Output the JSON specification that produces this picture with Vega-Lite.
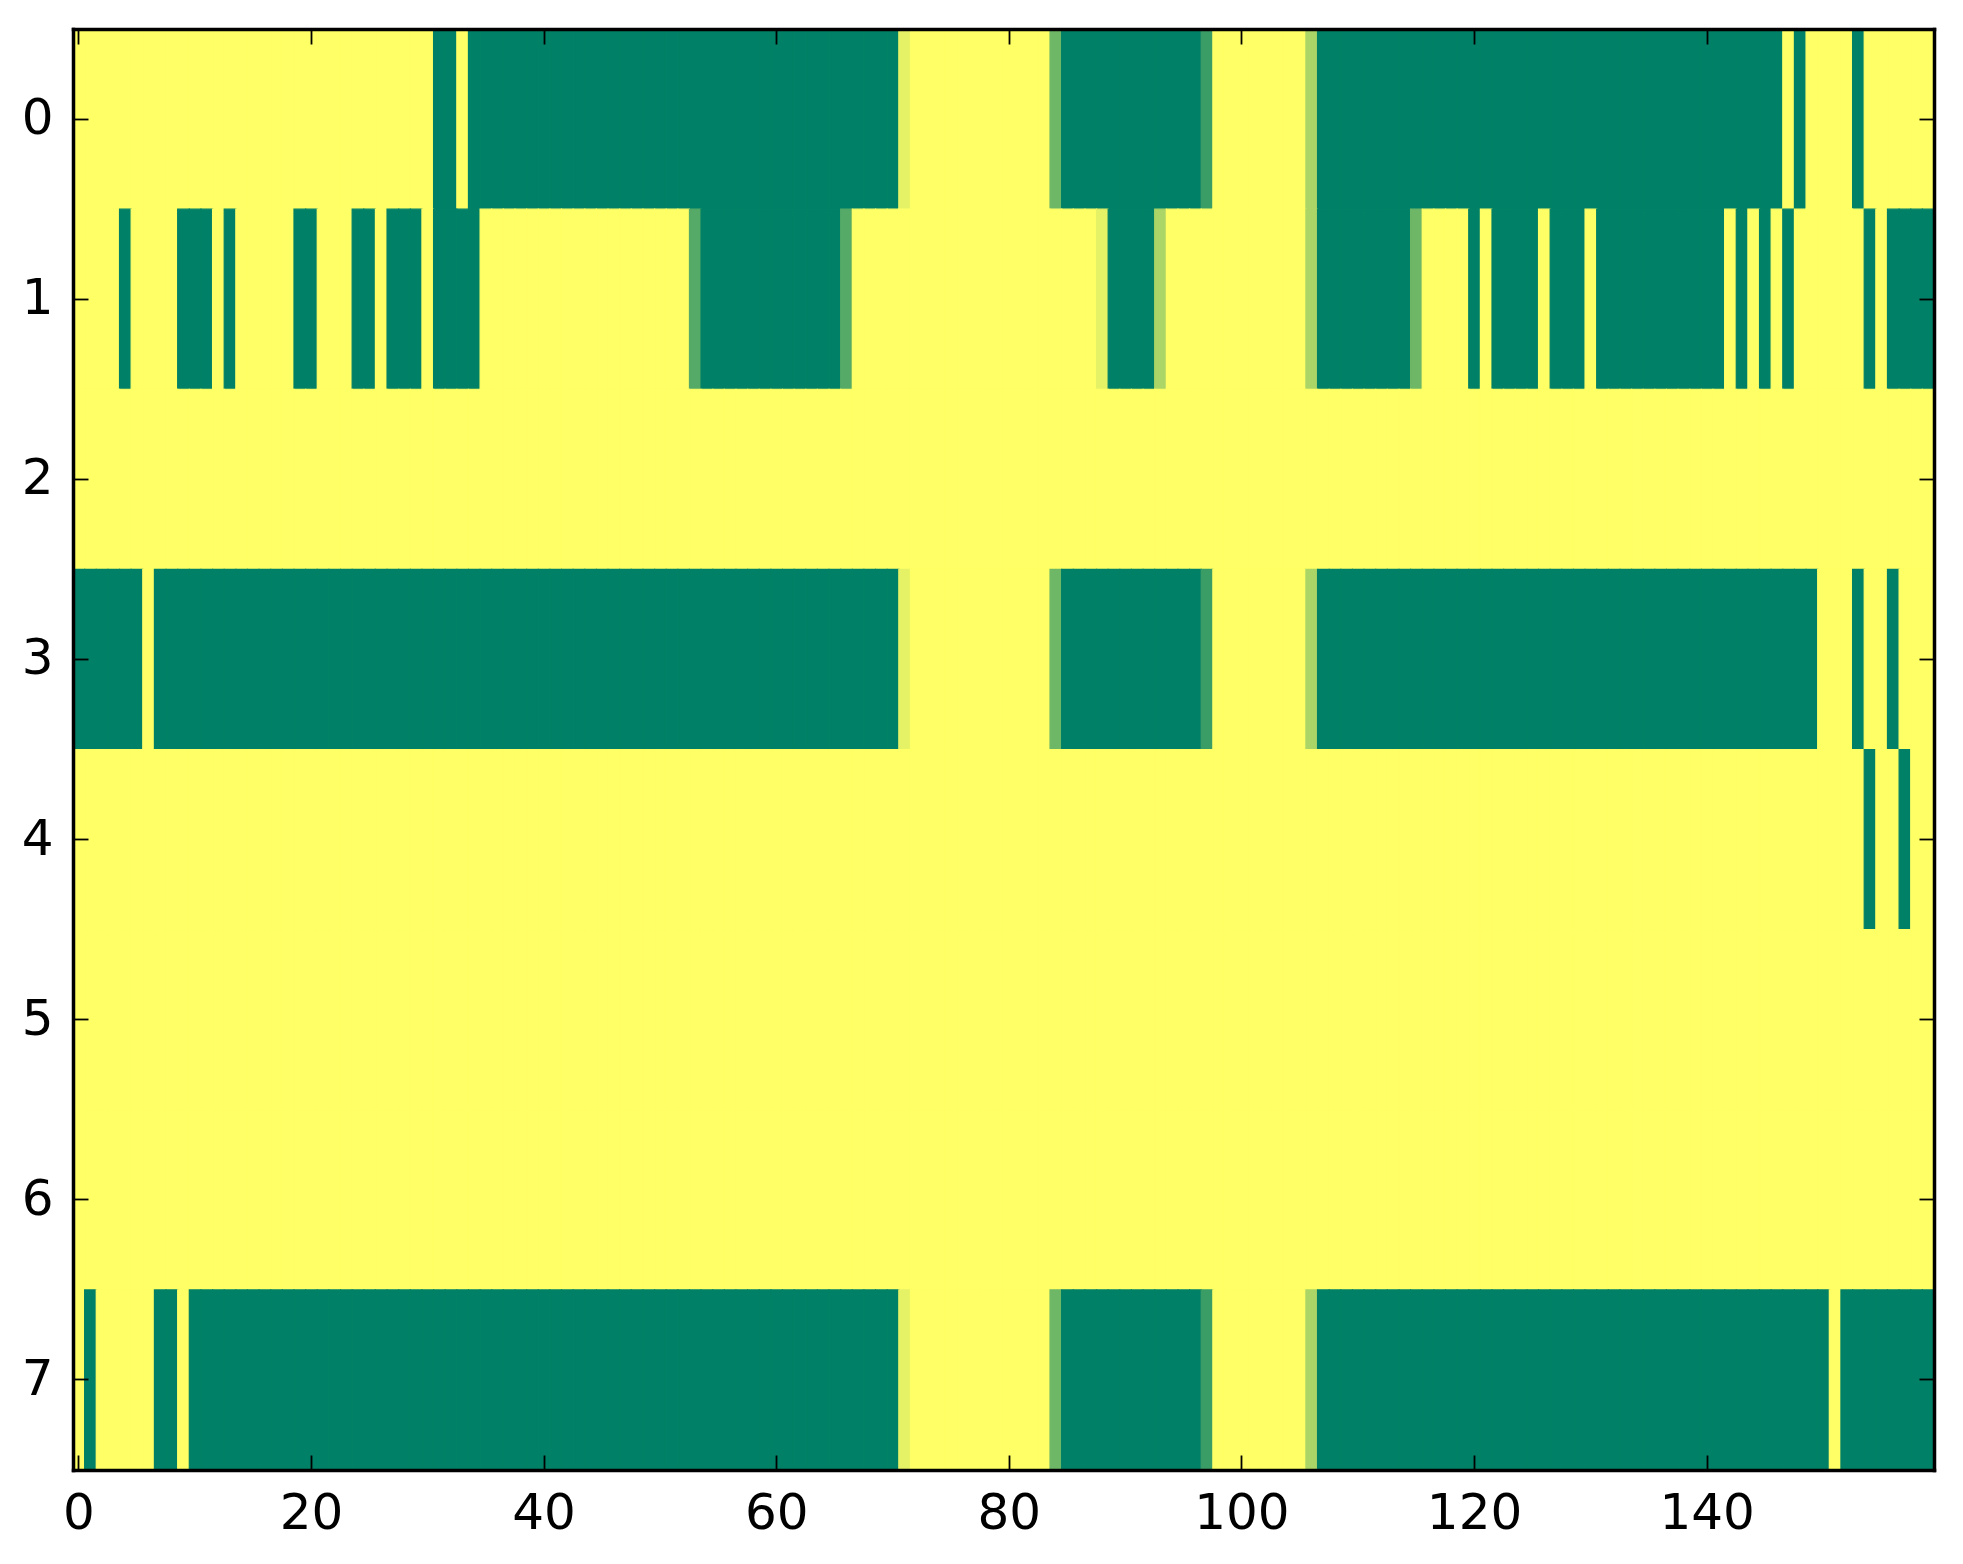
{
  "$schema": "https://vega.github.io/schema/vega-lite/v6.json",
  "autosize": {"type": "none"},
  "padding": {"left": 73, "top": 29, "right": 29, "bottom": 94},
  "width": 1861,
  "height": 1441,
  "background": "white",
  "config": {
    "view": {"stroke": null},
    "axis": {
      "labelFont": "DejaVu Sans",
      "labelFontSize": 50,
      "labelColor": "black",
      "tickColor": "black",
      "tickWidth": 1.8,
      "tickSize": -15,
      "domain": true,
      "domainColor": "black",
      "domainWidth": 3.5,
      "domainCap": "square",
      "grid": false,
      "title": null
    }
  },
  "data": {"values": [
{"r":0,"c":0,"v":1},{"r":0,"c":1,"v":1},{"r":0,"c":2,"v":1},{"r":0,"c":3,"v":1},{"r":0,"c":4,"v":1},{"r":0,"c":5,"v":1},{"r":0,"c":6,"v":1},{"r":0,"c":7,"v":1},{"r":0,"c":8,"v":1},{"r":0,"c":9,"v":1},
{"r":0,"c":10,"v":1},{"r":0,"c":11,"v":1},{"r":0,"c":12,"v":1},{"r":0,"c":13,"v":1},{"r":0,"c":14,"v":1},{"r":0,"c":15,"v":1},{"r":0,"c":16,"v":1},{"r":0,"c":17,"v":1},{"r":0,"c":18,"v":1},{"r":0,"c":19,"v":1},
{"r":0,"c":20,"v":1},{"r":0,"c":21,"v":1},{"r":0,"c":22,"v":1},{"r":0,"c":23,"v":1},{"r":0,"c":24,"v":1},{"r":0,"c":25,"v":1},{"r":0,"c":26,"v":1},{"r":0,"c":27,"v":1},{"r":0,"c":28,"v":1},{"r":0,"c":29,"v":1},
{"r":0,"c":30,"v":1},{"r":0,"c":31,"v":0},{"r":0,"c":32,"v":0},{"r":0,"c":33,"v":1},{"r":0,"c":34,"v":0},{"r":0,"c":35,"v":0},{"r":0,"c":36,"v":0},{"r":0,"c":37,"v":0},{"r":0,"c":38,"v":0},{"r":0,"c":39,"v":0},
{"r":0,"c":40,"v":0},{"r":0,"c":41,"v":0},{"r":0,"c":42,"v":0},{"r":0,"c":43,"v":0},{"r":0,"c":44,"v":0},{"r":0,"c":45,"v":0},{"r":0,"c":46,"v":0},{"r":0,"c":47,"v":0},{"r":0,"c":48,"v":0},{"r":0,"c":49,"v":0},
{"r":0,"c":50,"v":0},{"r":0,"c":51,"v":0},{"r":0,"c":52,"v":0},{"r":0,"c":53,"v":0},{"r":0,"c":54,"v":0},{"r":0,"c":55,"v":0},{"r":0,"c":56,"v":0},{"r":0,"c":57,"v":0},{"r":0,"c":58,"v":0},{"r":0,"c":59,"v":0},
{"r":0,"c":60,"v":0},{"r":0,"c":61,"v":0},{"r":0,"c":62,"v":0},{"r":0,"c":63,"v":0},{"r":0,"c":64,"v":0},{"r":0,"c":65,"v":0},{"r":0,"c":66,"v":0},{"r":0,"c":67,"v":0},{"r":0,"c":68,"v":0},{"r":0,"c":69,"v":0},
{"r":0,"c":70,"v":0},{"r":0,"c":71,"v":0.9},{"r":0,"c":72,"v":1},{"r":0,"c":73,"v":1},{"r":0,"c":74,"v":1},{"r":0,"c":75,"v":1},{"r":0,"c":76,"v":1},{"r":0,"c":77,"v":1},{"r":0,"c":78,"v":1},{"r":0,"c":79,"v":1},
{"r":0,"c":80,"v":1},{"r":0,"c":81,"v":1},{"r":0,"c":82,"v":1},{"r":0,"c":83,"v":1},{"r":0,"c":84,"v":0.43},{"r":0,"c":85,"v":0},{"r":0,"c":86,"v":0},{"r":0,"c":87,"v":0},{"r":0,"c":88,"v":0},{"r":0,"c":89,"v":0},
{"r":0,"c":90,"v":0},{"r":0,"c":91,"v":0},{"r":0,"c":92,"v":0},{"r":0,"c":93,"v":0},{"r":0,"c":94,"v":0},{"r":0,"c":95,"v":0},{"r":0,"c":96,"v":0},{"r":0,"c":97,"v":0.23},{"r":0,"c":98,"v":1},{"r":0,"c":99,"v":1},
{"r":0,"c":100,"v":1},{"r":0,"c":101,"v":1},{"r":0,"c":102,"v":1},{"r":0,"c":103,"v":1},{"r":0,"c":104,"v":1},{"r":0,"c":105,"v":1},{"r":0,"c":106,"v":0.67},{"r":0,"c":107,"v":0},{"r":0,"c":108,"v":0},{"r":0,"c":109,"v":0},
{"r":0,"c":110,"v":0},{"r":0,"c":111,"v":0},{"r":0,"c":112,"v":0},{"r":0,"c":113,"v":0},{"r":0,"c":114,"v":0},{"r":0,"c":115,"v":0},{"r":0,"c":116,"v":0},{"r":0,"c":117,"v":0},{"r":0,"c":118,"v":0},{"r":0,"c":119,"v":0},
{"r":0,"c":120,"v":0},{"r":0,"c":121,"v":0},{"r":0,"c":122,"v":0},{"r":0,"c":123,"v":0},{"r":0,"c":124,"v":0},{"r":0,"c":125,"v":0},{"r":0,"c":126,"v":0},{"r":0,"c":127,"v":0},{"r":0,"c":128,"v":0},{"r":0,"c":129,"v":0},
{"r":0,"c":130,"v":0},{"r":0,"c":131,"v":0},{"r":0,"c":132,"v":0},{"r":0,"c":133,"v":0},{"r":0,"c":134,"v":0},{"r":0,"c":135,"v":0},{"r":0,"c":136,"v":0},{"r":0,"c":137,"v":0},{"r":0,"c":138,"v":0},{"r":0,"c":139,"v":0},
{"r":0,"c":140,"v":0},{"r":0,"c":141,"v":0},{"r":0,"c":142,"v":0},{"r":0,"c":143,"v":0},{"r":0,"c":144,"v":0},{"r":0,"c":145,"v":0},{"r":0,"c":146,"v":0},{"r":0,"c":147,"v":1},{"r":0,"c":148,"v":0},{"r":0,"c":149,"v":1},
{"r":0,"c":150,"v":1},{"r":0,"c":151,"v":1},{"r":0,"c":152,"v":1},{"r":0,"c":153,"v":0},{"r":0,"c":154,"v":1},{"r":0,"c":155,"v":1},{"r":0,"c":156,"v":1},{"r":0,"c":157,"v":1},{"r":0,"c":158,"v":1},{"r":0,"c":159,"v":1},
{"r":1,"c":0,"v":1},{"r":1,"c":1,"v":1},{"r":1,"c":2,"v":1},{"r":1,"c":3,"v":1},{"r":1,"c":4,"v":0},{"r":1,"c":5,"v":1},{"r":1,"c":6,"v":1},{"r":1,"c":7,"v":1},{"r":1,"c":8,"v":1},{"r":1,"c":9,"v":0},
{"r":1,"c":10,"v":0},{"r":1,"c":11,"v":0},{"r":1,"c":12,"v":1},{"r":1,"c":13,"v":0},{"r":1,"c":14,"v":1},{"r":1,"c":15,"v":1},{"r":1,"c":16,"v":1},{"r":1,"c":17,"v":1},{"r":1,"c":18,"v":1},{"r":1,"c":19,"v":0},
{"r":1,"c":20,"v":0},{"r":1,"c":21,"v":1},{"r":1,"c":22,"v":1},{"r":1,"c":23,"v":1},{"r":1,"c":24,"v":0},{"r":1,"c":25,"v":0},{"r":1,"c":26,"v":1},{"r":1,"c":27,"v":0},{"r":1,"c":28,"v":0},{"r":1,"c":29,"v":0},
{"r":1,"c":30,"v":1},{"r":1,"c":31,"v":0},{"r":1,"c":32,"v":0},{"r":1,"c":33,"v":0},{"r":1,"c":34,"v":0},{"r":1,"c":35,"v":1},{"r":1,"c":36,"v":1},{"r":1,"c":37,"v":1},{"r":1,"c":38,"v":1},{"r":1,"c":39,"v":1},
{"r":1,"c":40,"v":1},{"r":1,"c":41,"v":1},{"r":1,"c":42,"v":1},{"r":1,"c":43,"v":1},{"r":1,"c":44,"v":1},{"r":1,"c":45,"v":1},{"r":1,"c":46,"v":1},{"r":1,"c":47,"v":1},{"r":1,"c":48,"v":1},{"r":1,"c":49,"v":1},
{"r":1,"c":50,"v":1},{"r":1,"c":51,"v":1},{"r":1,"c":52,"v":1},{"r":1,"c":53,"v":0.33},{"r":1,"c":54,"v":0},{"r":1,"c":55,"v":0},{"r":1,"c":56,"v":0},{"r":1,"c":57,"v":0},{"r":1,"c":58,"v":0},{"r":1,"c":59,"v":0},
{"r":1,"c":60,"v":0},{"r":1,"c":61,"v":0},{"r":1,"c":62,"v":0},{"r":1,"c":63,"v":0},{"r":1,"c":64,"v":0},{"r":1,"c":65,"v":0},{"r":1,"c":66,"v":0.33},{"r":1,"c":67,"v":1},{"r":1,"c":68,"v":1},{"r":1,"c":69,"v":1},
{"r":1,"c":70,"v":1},{"r":1,"c":71,"v":1},{"r":1,"c":72,"v":1},{"r":1,"c":73,"v":1},{"r":1,"c":74,"v":1},{"r":1,"c":75,"v":1},{"r":1,"c":76,"v":1},{"r":1,"c":77,"v":1},{"r":1,"c":78,"v":1},{"r":1,"c":79,"v":1},
{"r":1,"c":80,"v":1},{"r":1,"c":81,"v":1},{"r":1,"c":82,"v":1},{"r":1,"c":83,"v":1},{"r":1,"c":84,"v":1},{"r":1,"c":85,"v":1},{"r":1,"c":86,"v":1},{"r":1,"c":87,"v":1},{"r":1,"c":88,"v":0.9},{"r":1,"c":89,"v":0},
{"r":1,"c":90,"v":0},{"r":1,"c":91,"v":0},{"r":1,"c":92,"v":0},{"r":1,"c":93,"v":0.67},{"r":1,"c":94,"v":1},{"r":1,"c":95,"v":1},{"r":1,"c":96,"v":1},{"r":1,"c":97,"v":1},{"r":1,"c":98,"v":1},{"r":1,"c":99,"v":1},
{"r":1,"c":100,"v":1},{"r":1,"c":101,"v":1},{"r":1,"c":102,"v":1},{"r":1,"c":103,"v":1},{"r":1,"c":104,"v":1},{"r":1,"c":105,"v":1},{"r":1,"c":106,"v":0.67},{"r":1,"c":107,"v":0},{"r":1,"c":108,"v":0},{"r":1,"c":109,"v":0},
{"r":1,"c":110,"v":0},{"r":1,"c":111,"v":0},{"r":1,"c":112,"v":0},{"r":1,"c":113,"v":0},{"r":1,"c":114,"v":0},{"r":1,"c":115,"v":0.43},{"r":1,"c":116,"v":1},{"r":1,"c":117,"v":1},{"r":1,"c":118,"v":1},{"r":1,"c":119,"v":1},
{"r":1,"c":120,"v":0},{"r":1,"c":121,"v":1},{"r":1,"c":122,"v":0},{"r":1,"c":123,"v":0},{"r":1,"c":124,"v":0},{"r":1,"c":125,"v":0},{"r":1,"c":126,"v":1},{"r":1,"c":127,"v":0},{"r":1,"c":128,"v":0},{"r":1,"c":129,"v":0},
{"r":1,"c":130,"v":1},{"r":1,"c":131,"v":0},{"r":1,"c":132,"v":0},{"r":1,"c":133,"v":0},{"r":1,"c":134,"v":0},{"r":1,"c":135,"v":0},{"r":1,"c":136,"v":0},{"r":1,"c":137,"v":0},{"r":1,"c":138,"v":0},{"r":1,"c":139,"v":0},
{"r":1,"c":140,"v":0},{"r":1,"c":141,"v":0},{"r":1,"c":142,"v":1},{"r":1,"c":143,"v":0},{"r":1,"c":144,"v":1},{"r":1,"c":145,"v":0},{"r":1,"c":146,"v":1},{"r":1,"c":147,"v":0},{"r":1,"c":148,"v":1},{"r":1,"c":149,"v":1},
{"r":1,"c":150,"v":1},{"r":1,"c":151,"v":1},{"r":1,"c":152,"v":1},{"r":1,"c":153,"v":1},{"r":1,"c":154,"v":0},{"r":1,"c":155,"v":1},{"r":1,"c":156,"v":0},{"r":1,"c":157,"v":0},{"r":1,"c":158,"v":0},{"r":1,"c":159,"v":0},
{"r":2,"c":0,"v":1},{"r":2,"c":1,"v":1},{"r":2,"c":2,"v":1},{"r":2,"c":3,"v":1},{"r":2,"c":4,"v":1},{"r":2,"c":5,"v":1},{"r":2,"c":6,"v":1},{"r":2,"c":7,"v":1},{"r":2,"c":8,"v":1},{"r":2,"c":9,"v":1},
{"r":2,"c":10,"v":1},{"r":2,"c":11,"v":1},{"r":2,"c":12,"v":1},{"r":2,"c":13,"v":1},{"r":2,"c":14,"v":1},{"r":2,"c":15,"v":1},{"r":2,"c":16,"v":1},{"r":2,"c":17,"v":1},{"r":2,"c":18,"v":1},{"r":2,"c":19,"v":1},
{"r":2,"c":20,"v":1},{"r":2,"c":21,"v":1},{"r":2,"c":22,"v":1},{"r":2,"c":23,"v":1},{"r":2,"c":24,"v":1},{"r":2,"c":25,"v":1},{"r":2,"c":26,"v":1},{"r":2,"c":27,"v":1},{"r":2,"c":28,"v":1},{"r":2,"c":29,"v":1},
{"r":2,"c":30,"v":1},{"r":2,"c":31,"v":1},{"r":2,"c":32,"v":1},{"r":2,"c":33,"v":1},{"r":2,"c":34,"v":1},{"r":2,"c":35,"v":1},{"r":2,"c":36,"v":1},{"r":2,"c":37,"v":1},{"r":2,"c":38,"v":1},{"r":2,"c":39,"v":1},
{"r":2,"c":40,"v":1},{"r":2,"c":41,"v":1},{"r":2,"c":42,"v":1},{"r":2,"c":43,"v":1},{"r":2,"c":44,"v":1},{"r":2,"c":45,"v":1},{"r":2,"c":46,"v":1},{"r":2,"c":47,"v":1},{"r":2,"c":48,"v":1},{"r":2,"c":49,"v":1},
{"r":2,"c":50,"v":1},{"r":2,"c":51,"v":1},{"r":2,"c":52,"v":1},{"r":2,"c":53,"v":1},{"r":2,"c":54,"v":1},{"r":2,"c":55,"v":1},{"r":2,"c":56,"v":1},{"r":2,"c":57,"v":1},{"r":2,"c":58,"v":1},{"r":2,"c":59,"v":1},
{"r":2,"c":60,"v":1},{"r":2,"c":61,"v":1},{"r":2,"c":62,"v":1},{"r":2,"c":63,"v":1},{"r":2,"c":64,"v":1},{"r":2,"c":65,"v":1},{"r":2,"c":66,"v":1},{"r":2,"c":67,"v":1},{"r":2,"c":68,"v":1},{"r":2,"c":69,"v":1},
{"r":2,"c":70,"v":1},{"r":2,"c":71,"v":1},{"r":2,"c":72,"v":1},{"r":2,"c":73,"v":1},{"r":2,"c":74,"v":1},{"r":2,"c":75,"v":1},{"r":2,"c":76,"v":1},{"r":2,"c":77,"v":1},{"r":2,"c":78,"v":1},{"r":2,"c":79,"v":1},
{"r":2,"c":80,"v":1},{"r":2,"c":81,"v":1},{"r":2,"c":82,"v":1},{"r":2,"c":83,"v":1},{"r":2,"c":84,"v":1},{"r":2,"c":85,"v":1},{"r":2,"c":86,"v":1},{"r":2,"c":87,"v":1},{"r":2,"c":88,"v":1},{"r":2,"c":89,"v":1},
{"r":2,"c":90,"v":1},{"r":2,"c":91,"v":1},{"r":2,"c":92,"v":1},{"r":2,"c":93,"v":1},{"r":2,"c":94,"v":1},{"r":2,"c":95,"v":1},{"r":2,"c":96,"v":1},{"r":2,"c":97,"v":1},{"r":2,"c":98,"v":1},{"r":2,"c":99,"v":1},
{"r":2,"c":100,"v":1},{"r":2,"c":101,"v":1},{"r":2,"c":102,"v":1},{"r":2,"c":103,"v":1},{"r":2,"c":104,"v":1},{"r":2,"c":105,"v":1},{"r":2,"c":106,"v":1},{"r":2,"c":107,"v":1},{"r":2,"c":108,"v":1},{"r":2,"c":109,"v":1},
{"r":2,"c":110,"v":1},{"r":2,"c":111,"v":1},{"r":2,"c":112,"v":1},{"r":2,"c":113,"v":1},{"r":2,"c":114,"v":1},{"r":2,"c":115,"v":1},{"r":2,"c":116,"v":1},{"r":2,"c":117,"v":1},{"r":2,"c":118,"v":1},{"r":2,"c":119,"v":1},
{"r":2,"c":120,"v":1},{"r":2,"c":121,"v":1},{"r":2,"c":122,"v":1},{"r":2,"c":123,"v":1},{"r":2,"c":124,"v":1},{"r":2,"c":125,"v":1},{"r":2,"c":126,"v":1},{"r":2,"c":127,"v":1},{"r":2,"c":128,"v":1},{"r":2,"c":129,"v":1},
{"r":2,"c":130,"v":1},{"r":2,"c":131,"v":1},{"r":2,"c":132,"v":1},{"r":2,"c":133,"v":1},{"r":2,"c":134,"v":1},{"r":2,"c":135,"v":1},{"r":2,"c":136,"v":1},{"r":2,"c":137,"v":1},{"r":2,"c":138,"v":1},{"r":2,"c":139,"v":1},
{"r":2,"c":140,"v":1},{"r":2,"c":141,"v":1},{"r":2,"c":142,"v":1},{"r":2,"c":143,"v":1},{"r":2,"c":144,"v":1},{"r":2,"c":145,"v":1},{"r":2,"c":146,"v":1},{"r":2,"c":147,"v":1},{"r":2,"c":148,"v":1},{"r":2,"c":149,"v":1},
{"r":2,"c":150,"v":1},{"r":2,"c":151,"v":1},{"r":2,"c":152,"v":1},{"r":2,"c":153,"v":1},{"r":2,"c":154,"v":1},{"r":2,"c":155,"v":1},{"r":2,"c":156,"v":1},{"r":2,"c":157,"v":1},{"r":2,"c":158,"v":1},{"r":2,"c":159,"v":1},
{"r":3,"c":0,"v":0},{"r":3,"c":1,"v":0},{"r":3,"c":2,"v":0},{"r":3,"c":3,"v":0},{"r":3,"c":4,"v":0},{"r":3,"c":5,"v":0},{"r":3,"c":6,"v":1},{"r":3,"c":7,"v":0},{"r":3,"c":8,"v":0},{"r":3,"c":9,"v":0},
{"r":3,"c":10,"v":0},{"r":3,"c":11,"v":0},{"r":3,"c":12,"v":0},{"r":3,"c":13,"v":0},{"r":3,"c":14,"v":0},{"r":3,"c":15,"v":0},{"r":3,"c":16,"v":0},{"r":3,"c":17,"v":0},{"r":3,"c":18,"v":0},{"r":3,"c":19,"v":0},
{"r":3,"c":20,"v":0},{"r":3,"c":21,"v":0},{"r":3,"c":22,"v":0},{"r":3,"c":23,"v":0},{"r":3,"c":24,"v":0},{"r":3,"c":25,"v":0},{"r":3,"c":26,"v":0},{"r":3,"c":27,"v":0},{"r":3,"c":28,"v":0},{"r":3,"c":29,"v":0},
{"r":3,"c":30,"v":0},{"r":3,"c":31,"v":0},{"r":3,"c":32,"v":0},{"r":3,"c":33,"v":0},{"r":3,"c":34,"v":0},{"r":3,"c":35,"v":0},{"r":3,"c":36,"v":0},{"r":3,"c":37,"v":0},{"r":3,"c":38,"v":0},{"r":3,"c":39,"v":0},
{"r":3,"c":40,"v":0},{"r":3,"c":41,"v":0},{"r":3,"c":42,"v":0},{"r":3,"c":43,"v":0},{"r":3,"c":44,"v":0},{"r":3,"c":45,"v":0},{"r":3,"c":46,"v":0},{"r":3,"c":47,"v":0},{"r":3,"c":48,"v":0},{"r":3,"c":49,"v":0},
{"r":3,"c":50,"v":0},{"r":3,"c":51,"v":0},{"r":3,"c":52,"v":0},{"r":3,"c":53,"v":0},{"r":3,"c":54,"v":0},{"r":3,"c":55,"v":0},{"r":3,"c":56,"v":0},{"r":3,"c":57,"v":0},{"r":3,"c":58,"v":0},{"r":3,"c":59,"v":0},
{"r":3,"c":60,"v":0},{"r":3,"c":61,"v":0},{"r":3,"c":62,"v":0},{"r":3,"c":63,"v":0},{"r":3,"c":64,"v":0},{"r":3,"c":65,"v":0},{"r":3,"c":66,"v":0},{"r":3,"c":67,"v":0},{"r":3,"c":68,"v":0},{"r":3,"c":69,"v":0},
{"r":3,"c":70,"v":0},{"r":3,"c":71,"v":0.9},{"r":3,"c":72,"v":1},{"r":3,"c":73,"v":1},{"r":3,"c":74,"v":1},{"r":3,"c":75,"v":1},{"r":3,"c":76,"v":1},{"r":3,"c":77,"v":1},{"r":3,"c":78,"v":1},{"r":3,"c":79,"v":1},
{"r":3,"c":80,"v":1},{"r":3,"c":81,"v":1},{"r":3,"c":82,"v":1},{"r":3,"c":83,"v":1},{"r":3,"c":84,"v":0.43},{"r":3,"c":85,"v":0},{"r":3,"c":86,"v":0},{"r":3,"c":87,"v":0},{"r":3,"c":88,"v":0},{"r":3,"c":89,"v":0},
{"r":3,"c":90,"v":0},{"r":3,"c":91,"v":0},{"r":3,"c":92,"v":0},{"r":3,"c":93,"v":0},{"r":3,"c":94,"v":0},{"r":3,"c":95,"v":0},{"r":3,"c":96,"v":0},{"r":3,"c":97,"v":0.23},{"r":3,"c":98,"v":1},{"r":3,"c":99,"v":1},
{"r":3,"c":100,"v":1},{"r":3,"c":101,"v":1},{"r":3,"c":102,"v":1},{"r":3,"c":103,"v":1},{"r":3,"c":104,"v":1},{"r":3,"c":105,"v":1},{"r":3,"c":106,"v":0.67},{"r":3,"c":107,"v":0},{"r":3,"c":108,"v":0},{"r":3,"c":109,"v":0},
{"r":3,"c":110,"v":0},{"r":3,"c":111,"v":0},{"r":3,"c":112,"v":0},{"r":3,"c":113,"v":0},{"r":3,"c":114,"v":0},{"r":3,"c":115,"v":0},{"r":3,"c":116,"v":0},{"r":3,"c":117,"v":0},{"r":3,"c":118,"v":0},{"r":3,"c":119,"v":0},
{"r":3,"c":120,"v":0},{"r":3,"c":121,"v":0},{"r":3,"c":122,"v":0},{"r":3,"c":123,"v":0},{"r":3,"c":124,"v":0},{"r":3,"c":125,"v":0},{"r":3,"c":126,"v":0},{"r":3,"c":127,"v":0},{"r":3,"c":128,"v":0},{"r":3,"c":129,"v":0},
{"r":3,"c":130,"v":0},{"r":3,"c":131,"v":0},{"r":3,"c":132,"v":0},{"r":3,"c":133,"v":0},{"r":3,"c":134,"v":0},{"r":3,"c":135,"v":0},{"r":3,"c":136,"v":0},{"r":3,"c":137,"v":0},{"r":3,"c":138,"v":0},{"r":3,"c":139,"v":0},
{"r":3,"c":140,"v":0},{"r":3,"c":141,"v":0},{"r":3,"c":142,"v":0},{"r":3,"c":143,"v":0},{"r":3,"c":144,"v":0},{"r":3,"c":145,"v":0},{"r":3,"c":146,"v":0},{"r":3,"c":147,"v":0},{"r":3,"c":148,"v":0},{"r":3,"c":149,"v":0},
{"r":3,"c":150,"v":1},{"r":3,"c":151,"v":1},{"r":3,"c":152,"v":1},{"r":3,"c":153,"v":0},{"r":3,"c":154,"v":1},{"r":3,"c":155,"v":1},{"r":3,"c":156,"v":0},{"r":3,"c":157,"v":1},{"r":3,"c":158,"v":1},{"r":3,"c":159,"v":1},
{"r":4,"c":0,"v":1},{"r":4,"c":1,"v":1},{"r":4,"c":2,"v":1},{"r":4,"c":3,"v":1},{"r":4,"c":4,"v":1},{"r":4,"c":5,"v":1},{"r":4,"c":6,"v":1},{"r":4,"c":7,"v":1},{"r":4,"c":8,"v":1},{"r":4,"c":9,"v":1},
{"r":4,"c":10,"v":1},{"r":4,"c":11,"v":1},{"r":4,"c":12,"v":1},{"r":4,"c":13,"v":1},{"r":4,"c":14,"v":1},{"r":4,"c":15,"v":1},{"r":4,"c":16,"v":1},{"r":4,"c":17,"v":1},{"r":4,"c":18,"v":1},{"r":4,"c":19,"v":1},
{"r":4,"c":20,"v":1},{"r":4,"c":21,"v":1},{"r":4,"c":22,"v":1},{"r":4,"c":23,"v":1},{"r":4,"c":24,"v":1},{"r":4,"c":25,"v":1},{"r":4,"c":26,"v":1},{"r":4,"c":27,"v":1},{"r":4,"c":28,"v":1},{"r":4,"c":29,"v":1},
{"r":4,"c":30,"v":1},{"r":4,"c":31,"v":1},{"r":4,"c":32,"v":1},{"r":4,"c":33,"v":1},{"r":4,"c":34,"v":1},{"r":4,"c":35,"v":1},{"r":4,"c":36,"v":1},{"r":4,"c":37,"v":1},{"r":4,"c":38,"v":1},{"r":4,"c":39,"v":1},
{"r":4,"c":40,"v":1},{"r":4,"c":41,"v":1},{"r":4,"c":42,"v":1},{"r":4,"c":43,"v":1},{"r":4,"c":44,"v":1},{"r":4,"c":45,"v":1},{"r":4,"c":46,"v":1},{"r":4,"c":47,"v":1},{"r":4,"c":48,"v":1},{"r":4,"c":49,"v":1},
{"r":4,"c":50,"v":1},{"r":4,"c":51,"v":1},{"r":4,"c":52,"v":1},{"r":4,"c":53,"v":1},{"r":4,"c":54,"v":1},{"r":4,"c":55,"v":1},{"r":4,"c":56,"v":1},{"r":4,"c":57,"v":1},{"r":4,"c":58,"v":1},{"r":4,"c":59,"v":1},
{"r":4,"c":60,"v":1},{"r":4,"c":61,"v":1},{"r":4,"c":62,"v":1},{"r":4,"c":63,"v":1},{"r":4,"c":64,"v":1},{"r":4,"c":65,"v":1},{"r":4,"c":66,"v":1},{"r":4,"c":67,"v":1},{"r":4,"c":68,"v":1},{"r":4,"c":69,"v":1},
{"r":4,"c":70,"v":1},{"r":4,"c":71,"v":1},{"r":4,"c":72,"v":1},{"r":4,"c":73,"v":1},{"r":4,"c":74,"v":1},{"r":4,"c":75,"v":1},{"r":4,"c":76,"v":1},{"r":4,"c":77,"v":1},{"r":4,"c":78,"v":1},{"r":4,"c":79,"v":1},
{"r":4,"c":80,"v":1},{"r":4,"c":81,"v":1},{"r":4,"c":82,"v":1},{"r":4,"c":83,"v":1},{"r":4,"c":84,"v":1},{"r":4,"c":85,"v":1},{"r":4,"c":86,"v":1},{"r":4,"c":87,"v":1},{"r":4,"c":88,"v":1},{"r":4,"c":89,"v":1},
{"r":4,"c":90,"v":1},{"r":4,"c":91,"v":1},{"r":4,"c":92,"v":1},{"r":4,"c":93,"v":1},{"r":4,"c":94,"v":1},{"r":4,"c":95,"v":1},{"r":4,"c":96,"v":1},{"r":4,"c":97,"v":1},{"r":4,"c":98,"v":1},{"r":4,"c":99,"v":1},
{"r":4,"c":100,"v":1},{"r":4,"c":101,"v":1},{"r":4,"c":102,"v":1},{"r":4,"c":103,"v":1},{"r":4,"c":104,"v":1},{"r":4,"c":105,"v":1},{"r":4,"c":106,"v":1},{"r":4,"c":107,"v":1},{"r":4,"c":108,"v":1},{"r":4,"c":109,"v":1},
{"r":4,"c":110,"v":1},{"r":4,"c":111,"v":1},{"r":4,"c":112,"v":1},{"r":4,"c":113,"v":1},{"r":4,"c":114,"v":1},{"r":4,"c":115,"v":1},{"r":4,"c":116,"v":1},{"r":4,"c":117,"v":1},{"r":4,"c":118,"v":1},{"r":4,"c":119,"v":1},
{"r":4,"c":120,"v":1},{"r":4,"c":121,"v":1},{"r":4,"c":122,"v":1},{"r":4,"c":123,"v":1},{"r":4,"c":124,"v":1},{"r":4,"c":125,"v":1},{"r":4,"c":126,"v":1},{"r":4,"c":127,"v":1},{"r":4,"c":128,"v":1},{"r":4,"c":129,"v":1},
{"r":4,"c":130,"v":1},{"r":4,"c":131,"v":1},{"r":4,"c":132,"v":1},{"r":4,"c":133,"v":1},{"r":4,"c":134,"v":1},{"r":4,"c":135,"v":1},{"r":4,"c":136,"v":1},{"r":4,"c":137,"v":1},{"r":4,"c":138,"v":1},{"r":4,"c":139,"v":1},
{"r":4,"c":140,"v":1},{"r":4,"c":141,"v":1},{"r":4,"c":142,"v":1},{"r":4,"c":143,"v":1},{"r":4,"c":144,"v":1},{"r":4,"c":145,"v":1},{"r":4,"c":146,"v":1},{"r":4,"c":147,"v":1},{"r":4,"c":148,"v":1},{"r":4,"c":149,"v":1},
{"r":4,"c":150,"v":1},{"r":4,"c":151,"v":1},{"r":4,"c":152,"v":1},{"r":4,"c":153,"v":1},{"r":4,"c":154,"v":0},{"r":4,"c":155,"v":1},{"r":4,"c":156,"v":1},{"r":4,"c":157,"v":0},{"r":4,"c":158,"v":1},{"r":4,"c":159,"v":1},
{"r":5,"c":0,"v":1},{"r":5,"c":1,"v":1},{"r":5,"c":2,"v":1},{"r":5,"c":3,"v":1},{"r":5,"c":4,"v":1},{"r":5,"c":5,"v":1},{"r":5,"c":6,"v":1},{"r":5,"c":7,"v":1},{"r":5,"c":8,"v":1},{"r":5,"c":9,"v":1},
{"r":5,"c":10,"v":1},{"r":5,"c":11,"v":1},{"r":5,"c":12,"v":1},{"r":5,"c":13,"v":1},{"r":5,"c":14,"v":1},{"r":5,"c":15,"v":1},{"r":5,"c":16,"v":1},{"r":5,"c":17,"v":1},{"r":5,"c":18,"v":1},{"r":5,"c":19,"v":1},
{"r":5,"c":20,"v":1},{"r":5,"c":21,"v":1},{"r":5,"c":22,"v":1},{"r":5,"c":23,"v":1},{"r":5,"c":24,"v":1},{"r":5,"c":25,"v":1},{"r":5,"c":26,"v":1},{"r":5,"c":27,"v":1},{"r":5,"c":28,"v":1},{"r":5,"c":29,"v":1},
{"r":5,"c":30,"v":1},{"r":5,"c":31,"v":1},{"r":5,"c":32,"v":1},{"r":5,"c":33,"v":1},{"r":5,"c":34,"v":1},{"r":5,"c":35,"v":1},{"r":5,"c":36,"v":1},{"r":5,"c":37,"v":1},{"r":5,"c":38,"v":1},{"r":5,"c":39,"v":1},
{"r":5,"c":40,"v":1},{"r":5,"c":41,"v":1},{"r":5,"c":42,"v":1},{"r":5,"c":43,"v":1},{"r":5,"c":44,"v":1},{"r":5,"c":45,"v":1},{"r":5,"c":46,"v":1},{"r":5,"c":47,"v":1},{"r":5,"c":48,"v":1},{"r":5,"c":49,"v":1},
{"r":5,"c":50,"v":1},{"r":5,"c":51,"v":1},{"r":5,"c":52,"v":1},{"r":5,"c":53,"v":1},{"r":5,"c":54,"v":1},{"r":5,"c":55,"v":1},{"r":5,"c":56,"v":1},{"r":5,"c":57,"v":1},{"r":5,"c":58,"v":1},{"r":5,"c":59,"v":1},
{"r":5,"c":60,"v":1},{"r":5,"c":61,"v":1},{"r":5,"c":62,"v":1},{"r":5,"c":63,"v":1},{"r":5,"c":64,"v":1},{"r":5,"c":65,"v":1},{"r":5,"c":66,"v":1},{"r":5,"c":67,"v":1},{"r":5,"c":68,"v":1},{"r":5,"c":69,"v":1},
{"r":5,"c":70,"v":1},{"r":5,"c":71,"v":1},{"r":5,"c":72,"v":1},{"r":5,"c":73,"v":1},{"r":5,"c":74,"v":1},{"r":5,"c":75,"v":1},{"r":5,"c":76,"v":1},{"r":5,"c":77,"v":1},{"r":5,"c":78,"v":1},{"r":5,"c":79,"v":1},
{"r":5,"c":80,"v":1},{"r":5,"c":81,"v":1},{"r":5,"c":82,"v":1},{"r":5,"c":83,"v":1},{"r":5,"c":84,"v":1},{"r":5,"c":85,"v":1},{"r":5,"c":86,"v":1},{"r":5,"c":87,"v":1},{"r":5,"c":88,"v":1},{"r":5,"c":89,"v":1},
{"r":5,"c":90,"v":1},{"r":5,"c":91,"v":1},{"r":5,"c":92,"v":1},{"r":5,"c":93,"v":1},{"r":5,"c":94,"v":1},{"r":5,"c":95,"v":1},{"r":5,"c":96,"v":1},{"r":5,"c":97,"v":1},{"r":5,"c":98,"v":1},{"r":5,"c":99,"v":1},
{"r":5,"c":100,"v":1},{"r":5,"c":101,"v":1},{"r":5,"c":102,"v":1},{"r":5,"c":103,"v":1},{"r":5,"c":104,"v":1},{"r":5,"c":105,"v":1},{"r":5,"c":106,"v":1},{"r":5,"c":107,"v":1},{"r":5,"c":108,"v":1},{"r":5,"c":109,"v":1},
{"r":5,"c":110,"v":1},{"r":5,"c":111,"v":1},{"r":5,"c":112,"v":1},{"r":5,"c":113,"v":1},{"r":5,"c":114,"v":1},{"r":5,"c":115,"v":1},{"r":5,"c":116,"v":1},{"r":5,"c":117,"v":1},{"r":5,"c":118,"v":1},{"r":5,"c":119,"v":1},
{"r":5,"c":120,"v":1},{"r":5,"c":121,"v":1},{"r":5,"c":122,"v":1},{"r":5,"c":123,"v":1},{"r":5,"c":124,"v":1},{"r":5,"c":125,"v":1},{"r":5,"c":126,"v":1},{"r":5,"c":127,"v":1},{"r":5,"c":128,"v":1},{"r":5,"c":129,"v":1},
{"r":5,"c":130,"v":1},{"r":5,"c":131,"v":1},{"r":5,"c":132,"v":1},{"r":5,"c":133,"v":1},{"r":5,"c":134,"v":1},{"r":5,"c":135,"v":1},{"r":5,"c":136,"v":1},{"r":5,"c":137,"v":1},{"r":5,"c":138,"v":1},{"r":5,"c":139,"v":1},
{"r":5,"c":140,"v":1},{"r":5,"c":141,"v":1},{"r":5,"c":142,"v":1},{"r":5,"c":143,"v":1},{"r":5,"c":144,"v":1},{"r":5,"c":145,"v":1},{"r":5,"c":146,"v":1},{"r":5,"c":147,"v":1},{"r":5,"c":148,"v":1},{"r":5,"c":149,"v":1},
{"r":5,"c":150,"v":1},{"r":5,"c":151,"v":1},{"r":5,"c":152,"v":1},{"r":5,"c":153,"v":1},{"r":5,"c":154,"v":1},{"r":5,"c":155,"v":1},{"r":5,"c":156,"v":1},{"r":5,"c":157,"v":1},{"r":5,"c":158,"v":1},{"r":5,"c":159,"v":1},
{"r":6,"c":0,"v":1},{"r":6,"c":1,"v":1},{"r":6,"c":2,"v":1},{"r":6,"c":3,"v":1},{"r":6,"c":4,"v":1},{"r":6,"c":5,"v":1},{"r":6,"c":6,"v":1},{"r":6,"c":7,"v":1},{"r":6,"c":8,"v":1},{"r":6,"c":9,"v":1},
{"r":6,"c":10,"v":1},{"r":6,"c":11,"v":1},{"r":6,"c":12,"v":1},{"r":6,"c":13,"v":1},{"r":6,"c":14,"v":1},{"r":6,"c":15,"v":1},{"r":6,"c":16,"v":1},{"r":6,"c":17,"v":1},{"r":6,"c":18,"v":1},{"r":6,"c":19,"v":1},
{"r":6,"c":20,"v":1},{"r":6,"c":21,"v":1},{"r":6,"c":22,"v":1},{"r":6,"c":23,"v":1},{"r":6,"c":24,"v":1},{"r":6,"c":25,"v":1},{"r":6,"c":26,"v":1},{"r":6,"c":27,"v":1},{"r":6,"c":28,"v":1},{"r":6,"c":29,"v":1},
{"r":6,"c":30,"v":1},{"r":6,"c":31,"v":1},{"r":6,"c":32,"v":1},{"r":6,"c":33,"v":1},{"r":6,"c":34,"v":1},{"r":6,"c":35,"v":1},{"r":6,"c":36,"v":1},{"r":6,"c":37,"v":1},{"r":6,"c":38,"v":1},{"r":6,"c":39,"v":1},
{"r":6,"c":40,"v":1},{"r":6,"c":41,"v":1},{"r":6,"c":42,"v":1},{"r":6,"c":43,"v":1},{"r":6,"c":44,"v":1},{"r":6,"c":45,"v":1},{"r":6,"c":46,"v":1},{"r":6,"c":47,"v":1},{"r":6,"c":48,"v":1},{"r":6,"c":49,"v":1},
{"r":6,"c":50,"v":1},{"r":6,"c":51,"v":1},{"r":6,"c":52,"v":1},{"r":6,"c":53,"v":1},{"r":6,"c":54,"v":1},{"r":6,"c":55,"v":1},{"r":6,"c":56,"v":1},{"r":6,"c":57,"v":1},{"r":6,"c":58,"v":1},{"r":6,"c":59,"v":1},
{"r":6,"c":60,"v":1},{"r":6,"c":61,"v":1},{"r":6,"c":62,"v":1},{"r":6,"c":63,"v":1},{"r":6,"c":64,"v":1},{"r":6,"c":65,"v":1},{"r":6,"c":66,"v":1},{"r":6,"c":67,"v":1},{"r":6,"c":68,"v":1},{"r":6,"c":69,"v":1},
{"r":6,"c":70,"v":1},{"r":6,"c":71,"v":1},{"r":6,"c":72,"v":1},{"r":6,"c":73,"v":1},{"r":6,"c":74,"v":1},{"r":6,"c":75,"v":1},{"r":6,"c":76,"v":1},{"r":6,"c":77,"v":1},{"r":6,"c":78,"v":1},{"r":6,"c":79,"v":1},
{"r":6,"c":80,"v":1},{"r":6,"c":81,"v":1},{"r":6,"c":82,"v":1},{"r":6,"c":83,"v":1},{"r":6,"c":84,"v":1},{"r":6,"c":85,"v":1},{"r":6,"c":86,"v":1},{"r":6,"c":87,"v":1},{"r":6,"c":88,"v":1},{"r":6,"c":89,"v":1},
{"r":6,"c":90,"v":1},{"r":6,"c":91,"v":1},{"r":6,"c":92,"v":1},{"r":6,"c":93,"v":1},{"r":6,"c":94,"v":1},{"r":6,"c":95,"v":1},{"r":6,"c":96,"v":1},{"r":6,"c":97,"v":1},{"r":6,"c":98,"v":1},{"r":6,"c":99,"v":1},
{"r":6,"c":100,"v":1},{"r":6,"c":101,"v":1},{"r":6,"c":102,"v":1},{"r":6,"c":103,"v":1},{"r":6,"c":104,"v":1},{"r":6,"c":105,"v":1},{"r":6,"c":106,"v":1},{"r":6,"c":107,"v":1},{"r":6,"c":108,"v":1},{"r":6,"c":109,"v":1},
{"r":6,"c":110,"v":1},{"r":6,"c":111,"v":1},{"r":6,"c":112,"v":1},{"r":6,"c":113,"v":1},{"r":6,"c":114,"v":1},{"r":6,"c":115,"v":1},{"r":6,"c":116,"v":1},{"r":6,"c":117,"v":1},{"r":6,"c":118,"v":1},{"r":6,"c":119,"v":1},
{"r":6,"c":120,"v":1},{"r":6,"c":121,"v":1},{"r":6,"c":122,"v":1},{"r":6,"c":123,"v":1},{"r":6,"c":124,"v":1},{"r":6,"c":125,"v":1},{"r":6,"c":126,"v":1},{"r":6,"c":127,"v":1},{"r":6,"c":128,"v":1},{"r":6,"c":129,"v":1},
{"r":6,"c":130,"v":1},{"r":6,"c":131,"v":1},{"r":6,"c":132,"v":1},{"r":6,"c":133,"v":1},{"r":6,"c":134,"v":1},{"r":6,"c":135,"v":1},{"r":6,"c":136,"v":1},{"r":6,"c":137,"v":1},{"r":6,"c":138,"v":1},{"r":6,"c":139,"v":1},
{"r":6,"c":140,"v":1},{"r":6,"c":141,"v":1},{"r":6,"c":142,"v":1},{"r":6,"c":143,"v":1},{"r":6,"c":144,"v":1},{"r":6,"c":145,"v":1},{"r":6,"c":146,"v":1},{"r":6,"c":147,"v":1},{"r":6,"c":148,"v":1},{"r":6,"c":149,"v":1},
{"r":6,"c":150,"v":1},{"r":6,"c":151,"v":1},{"r":6,"c":152,"v":1},{"r":6,"c":153,"v":1},{"r":6,"c":154,"v":1},{"r":6,"c":155,"v":1},{"r":6,"c":156,"v":1},{"r":6,"c":157,"v":1},{"r":6,"c":158,"v":1},{"r":6,"c":159,"v":1},
{"r":7,"c":0,"v":1},{"r":7,"c":1,"v":0},{"r":7,"c":2,"v":1},{"r":7,"c":3,"v":1},{"r":7,"c":4,"v":1},{"r":7,"c":5,"v":1},{"r":7,"c":6,"v":1},{"r":7,"c":7,"v":0},{"r":7,"c":8,"v":0},{"r":7,"c":9,"v":1},
{"r":7,"c":10,"v":0},{"r":7,"c":11,"v":0},{"r":7,"c":12,"v":0},{"r":7,"c":13,"v":0},{"r":7,"c":14,"v":0},{"r":7,"c":15,"v":0},{"r":7,"c":16,"v":0},{"r":7,"c":17,"v":0},{"r":7,"c":18,"v":0},{"r":7,"c":19,"v":0},
{"r":7,"c":20,"v":0},{"r":7,"c":21,"v":0},{"r":7,"c":22,"v":0},{"r":7,"c":23,"v":0},{"r":7,"c":24,"v":0},{"r":7,"c":25,"v":0},{"r":7,"c":26,"v":0},{"r":7,"c":27,"v":0},{"r":7,"c":28,"v":0},{"r":7,"c":29,"v":0},
{"r":7,"c":30,"v":0},{"r":7,"c":31,"v":0},{"r":7,"c":32,"v":0},{"r":7,"c":33,"v":0},{"r":7,"c":34,"v":0},{"r":7,"c":35,"v":0},{"r":7,"c":36,"v":0},{"r":7,"c":37,"v":0},{"r":7,"c":38,"v":0},{"r":7,"c":39,"v":0},
{"r":7,"c":40,"v":0},{"r":7,"c":41,"v":0},{"r":7,"c":42,"v":0},{"r":7,"c":43,"v":0},{"r":7,"c":44,"v":0},{"r":7,"c":45,"v":0},{"r":7,"c":46,"v":0},{"r":7,"c":47,"v":0},{"r":7,"c":48,"v":0},{"r":7,"c":49,"v":0},
{"r":7,"c":50,"v":0},{"r":7,"c":51,"v":0},{"r":7,"c":52,"v":0},{"r":7,"c":53,"v":0},{"r":7,"c":54,"v":0},{"r":7,"c":55,"v":0},{"r":7,"c":56,"v":0},{"r":7,"c":57,"v":0},{"r":7,"c":58,"v":0},{"r":7,"c":59,"v":0},
{"r":7,"c":60,"v":0},{"r":7,"c":61,"v":0},{"r":7,"c":62,"v":0},{"r":7,"c":63,"v":0},{"r":7,"c":64,"v":0},{"r":7,"c":65,"v":0},{"r":7,"c":66,"v":0},{"r":7,"c":67,"v":0},{"r":7,"c":68,"v":0},{"r":7,"c":69,"v":0},
{"r":7,"c":70,"v":0},{"r":7,"c":71,"v":0.9},{"r":7,"c":72,"v":1},{"r":7,"c":73,"v":1},{"r":7,"c":74,"v":1},{"r":7,"c":75,"v":1},{"r":7,"c":76,"v":1},{"r":7,"c":77,"v":1},{"r":7,"c":78,"v":1},{"r":7,"c":79,"v":1},
{"r":7,"c":80,"v":1},{"r":7,"c":81,"v":1},{"r":7,"c":82,"v":1},{"r":7,"c":83,"v":1},{"r":7,"c":84,"v":0.43},{"r":7,"c":85,"v":0},{"r":7,"c":86,"v":0},{"r":7,"c":87,"v":0},{"r":7,"c":88,"v":0},{"r":7,"c":89,"v":0},
{"r":7,"c":90,"v":0},{"r":7,"c":91,"v":0},{"r":7,"c":92,"v":0},{"r":7,"c":93,"v":0},{"r":7,"c":94,"v":0},{"r":7,"c":95,"v":0},{"r":7,"c":96,"v":0},{"r":7,"c":97,"v":0.23},{"r":7,"c":98,"v":1},{"r":7,"c":99,"v":1},
{"r":7,"c":100,"v":1},{"r":7,"c":101,"v":1},{"r":7,"c":102,"v":1},{"r":7,"c":103,"v":1},{"r":7,"c":104,"v":1},{"r":7,"c":105,"v":1},{"r":7,"c":106,"v":0.67},{"r":7,"c":107,"v":0},{"r":7,"c":108,"v":0},{"r":7,"c":109,"v":0},
{"r":7,"c":110,"v":0},{"r":7,"c":111,"v":0},{"r":7,"c":112,"v":0},{"r":7,"c":113,"v":0},{"r":7,"c":114,"v":0},{"r":7,"c":115,"v":0},{"r":7,"c":116,"v":0},{"r":7,"c":117,"v":0},{"r":7,"c":118,"v":0},{"r":7,"c":119,"v":0},
{"r":7,"c":120,"v":0},{"r":7,"c":121,"v":0},{"r":7,"c":122,"v":0},{"r":7,"c":123,"v":0},{"r":7,"c":124,"v":0},{"r":7,"c":125,"v":0},{"r":7,"c":126,"v":0},{"r":7,"c":127,"v":0},{"r":7,"c":128,"v":0},{"r":7,"c":129,"v":0},
{"r":7,"c":130,"v":0},{"r":7,"c":131,"v":0},{"r":7,"c":132,"v":0},{"r":7,"c":133,"v":0},{"r":7,"c":134,"v":0},{"r":7,"c":135,"v":0},{"r":7,"c":136,"v":0},{"r":7,"c":137,"v":0},{"r":7,"c":138,"v":0},{"r":7,"c":139,"v":0},
{"r":7,"c":140,"v":0},{"r":7,"c":141,"v":0},{"r":7,"c":142,"v":0},{"r":7,"c":143,"v":0},{"r":7,"c":144,"v":0},{"r":7,"c":145,"v":0},{"r":7,"c":146,"v":0},{"r":7,"c":147,"v":0},{"r":7,"c":148,"v":0},{"r":7,"c":149,"v":0},
{"r":7,"c":150,"v":0},{"r":7,"c":151,"v":1},{"r":7,"c":152,"v":0},{"r":7,"c":153,"v":0},{"r":7,"c":154,"v":0},{"r":7,"c":155,"v":0},{"r":7,"c":156,"v":0},{"r":7,"c":157,"v":0},{"r":7,"c":158,"v":0},{"r":7,"c":159,"v":0}
  ]},
  "layer": [
    {
      "mark": {"type": "rect", "strokeWidth": 1.2},
      "encoding": {
        "x": {
          "field": "c", "type": "ordinal",
          "scale": {"paddingInner": 0, "paddingOuter": 0},
          "axis": {"orient": "bottom", "values": [0, 20, 40, 60, 80, 100, 120, 140], "labelAngle": 0, "labelPadding": 33, "zindex": 1}
        },
        "y": {
          "field": "r", "type": "ordinal",
          "scale": {"paddingInner": 0, "paddingOuter": 0},
          "axis": {"orient": "left", "labelPadding": 35, "zindex": 1}
        },
        "color": {
          "field": "v", "type": "quantitative",
          "scale": {"type": "linear", "domain": [0, 1], "range": ["#008066", "#ffff66"], "interpolate": "rgb"},
          "legend": null
        },
        "stroke": {
          "field": "v", "type": "quantitative",
          "scale": {"type": "linear", "domain": [0, 1], "range": ["#008066", "#ffff66"], "interpolate": "rgb"},
          "legend": null
        }
      }
    },
    {
      "mark": {"type": "rect", "opacity": 0},
      "encoding": {
        "x": {
          "field": "c", "type": "ordinal",
          "axis": {"orient": "top", "values": [0, 20, 40, 60, 80, 100, 120, 140], "labels": false, "zindex": 1}
        },
        "y": {
          "field": "r", "type": "ordinal",
          "axis": {"orient": "right", "labels": false, "zindex": 1}
        }
      }
    }
  ],
  "resolve": {"axis": {"x": "independent", "y": "independent"}}
}
